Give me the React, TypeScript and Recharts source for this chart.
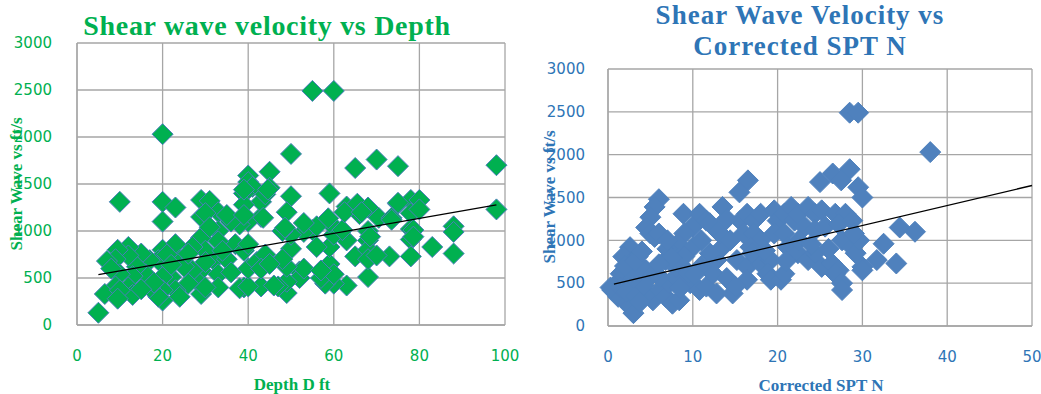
import React from 'react';
import { ScatterChart, Scatter, XAxis, YAxis, CartesianGrid } from 'recharts';

// Vs (ft/s) against depth (ft)
const depthPoints: [number, number][] = [
  [5, 130], [20, 2030], [55, 2490], [60, 2490], [50, 1820], [70, 1760], [75, 1690], [65, 1670],
  [98, 1700], [98, 1230], [45, 1630], [40, 1590], [40, 1520], [41, 1470], [45, 1460], [39, 1400],
  [10, 1310], [20, 1310], [20, 1100], [23, 1250], [29, 1330], [31, 1320], [59, 1400], [50, 1370],
  [49, 1200], [63, 1260], [65.5, 1290], [68, 1250], [70.5, 1140], [75, 1290], [73.5, 1140], [78, 1330],
  [80, 1330], [78, 1190], [78, 1020], [78, 910], [78, 730], [80, 1230], [83, 830], [88, 1050],
  [88, 990], [88, 760], [73, 730], [68, 510], [65, 730], [68, 900], [68, 800], [68, 700],
  [70, 740], [68, 1000], [63, 900], [63, 420], [60, 440], [58, 440], [57, 500], [59, 650],
  [59, 830], [60, 960], [59, 1090], [60, 540], [55, 1010], [53, 990], [56, 830], [52, 570],
  [52, 500], [53, 600], [49, 340], [49, 460], [49, 620], [50, 810], [50, 960], [48, 700],
  [47, 410], [48, 1000], [43, 410], [39, 400], [38, 390], [40, 410], [43, 1150], [43, 1310],
  [44, 1390], [39, 1280], [40, 1100], [38, 1070], [37, 860], [39, 790], [40, 600], [42, 670],
  [44, 750], [43, 600], [45, 650], [40, 860], [33, 1200], [35, 1160], [33, 1000], [33, 890],
  [32, 690], [33, 540], [33, 400], [29, 930], [30, 790], [29, 580], [28, 470], [29, 330],
  [30, 400], [29, 1150], [30, 1190], [31, 1040], [27, 830], [27, 580], [26, 440], [23, 860],
  [24, 690], [22, 510], [23, 370], [24, 300], [20, 800], [19, 690], [21, 750], [20, 510],
  [20, 370], [20, 260], [19, 300], [17, 690], [16, 540], [17, 400], [15, 760], [14, 620],
  [13, 520], [12, 830], [12, 740], [12, 400], [13, 320], [9.5, 800], [9, 700], [10, 540],
  [9, 410], [7, 680], [6.5, 330], [10, 370], [9.5, 280], [8, 600], [35, 700], [36, 560],
  [25, 620], [26, 760], [18, 450], [15, 380], [22, 640], [30, 670], [34, 790], [46, 420],
  [57, 580], [62, 1010], [66, 1180], [56, 1050], [36, 1100], [43.5, 1140], [35, 1170], [39, 1170],
  [62.5, 1200], [66.5, 1200], [58.7, 1135], [53, 1085], [48.6, 1035], [39, 1440], [44.6, 1440],
  [78.6, 1010], [78.6, 940], [68.5, 940], [73.5, 1120], [75, 1300],
];

// Vs (ft/s) against corrected SPT N
const sptPoints: [number, number][] = [
  [28.5, 2490], [29.5, 2490], [38, 2030], [28.5, 1830], [25, 1680], [26.5, 1780], [27.5, 1700],
  [29.5, 1620], [30, 1500], [16.5, 1700], [15.5, 1560], [13.5, 1390], [6, 1480], [5.5, 1390],
  [5, 1270], [4.5, 1150], [5, 1080], [5.5, 1040], [6, 1080], [2.6, 920], [1.8, 810], [3.5, 810],
  [4.5, 650], [1.5, 610], [2.6, 500], [0.7, 460], [0.5, 420], [1.2, 340], [2, 300], [2.6, 225],
  [3, 150], [5.3, 300], [4.5, 380], [6.1, 420], [6.8, 340], [7.6, 260], [8.4, 300], [7.2, 500],
  [8, 570], [6.1, 570], [5.3, 610], [8.9, 1310], [10, 1160], [10.8, 1310], [11.6, 1230], [9, 1080],
  [8.2, 960], [10, 920], [6.8, 770], [8, 690], [9, 810], [9.7, 500], [10.8, 420], [11.6, 460],
  [12.8, 380], [14.7, 380], [12.4, 610], [12.8, 770], [13.5, 920], [13.2, 1080], [14.4, 1000],
  [15.6, 1230], [16.4, 1310], [17.2, 1230], [18, 1310], [16, 1080], [17.2, 1080], [18, 1000],
  [16.8, 920], [15.2, 770], [16.4, 690], [18, 730], [19.2, 770], [18.8, 610], [16.4, 540],
  [19.2, 540], [20.4, 540], [20.8, 610], [19.6, 1350], [20, 1230], [20.8, 1310], [21.6, 1390],
  [19.6, 1080], [20.8, 1080], [22, 1230], [22.4, 1310], [23.6, 1390], [24.4, 1310], [25.2, 1350],
  [23.2, 1160], [24.4, 1120], [25.6, 1160], [21.2, 920], [22.4, 850], [23.6, 770], [24.4, 850],
  [25.2, 690], [26.4, 730], [27.2, 650], [26.8, 1310], [28, 1310], [27.2, 1190], [28.8, 1230],
  [27.6, 1000], [28.8, 920], [29.2, 850], [29.6, 1000], [26.8, 610], [27.6, 500], [27.6, 420],
  [30, 690], [30, 650], [31.7, 770], [32.5, 960], [34, 730], [34.4, 1150], [36.2, 1100], [29, 1080],
  [1, 380], [0.3, 450], [1.5, 450], [2.2, 400], [3.3, 350], [3.8, 280], [4.2, 480], [3, 560],
  [2, 700], [3.2, 760], [4, 870], [7, 900], [7.5, 800], [9.5, 620], [11, 700], [12, 850],
  [14, 560], [15, 460], [11, 1000], [12, 1200], [14, 1250], [13, 1100], [17, 850], [18.5, 880],
  [21, 760], [22.5, 1000], [24, 950], [26, 900], [7, 1000], [6, 720], [8.5, 440], [10.2, 600],
];

// linear trend end points
const depthTrend: [number, number][] = [[5, 535], [98, 1278]];
const sptTrend: [number, number][] = [[0.7, 490], [50, 1640]];

const vsTicks = [0, 500, 1000, 1500, 2000, 2500, 3000];
const depthTicks = [0, 20, 40, 60, 80, 100];
const sptTicks = [0, 10, 20, 30, 40, 50];

const GREEN = '#00B050';
const BLUE_TEXT = '#2E75B6';
const BLUE_MARK = '#4F81BD';
const GRID = '#a6a6a6';
const SERIF = '"Liberation Serif", "Times New Roman", serif';
const TICK_FONT = '"DejaVu Sans", sans-serif';

const toXY = (pts: [number, number][]) => pts.map(([x, y]) => ({ x, y }));

const makeDiamond = (fill: string, stroke: string) => (props: any) => {
  const { cx, cy } = props;
  const r = 10.5;
  return (
    <polygon
      points={`${cx},${cy - r} ${cx + r},${cy} ${cx},${cy + r} ${cx - r},${cy}`}
      fill={fill}
      stroke={stroke}
      strokeWidth={1}
    />
  );
};

const noDot = () => <g />;

export default function App() {
  return (
    <div style={{ position: 'absolute', left: 0, top: 0, width: 1041, height: 394, background: '#fff' }}>
      <div style={{ position: 'absolute', left: 0, top: 0 }}>
        <ScatterChart width={520} height={394} margin={{ top: 43, right: 15, bottom: 0, left: 0 }}>
          <CartesianGrid stroke={GRID} strokeWidth={1.3} />
          <XAxis
            type="number"
            dataKey="x"
            domain={[0, 100]}
            ticks={depthTicks}
            height={69}
            tickSize={0}
            tickMargin={25}
            axisLine={{ stroke: GRID, strokeWidth: 1.3 }}
            tick={{ fill: GREEN, fontSize: 15, fontFamily: TICK_FONT }}
          />
          <YAxis
            type="number"
            dataKey="y"
            domain={[0, 3000]}
            ticks={vsTicks}
            width={77}
            tickSize={0}
            tickMargin={25}
            axisLine={{ stroke: GRID, strokeWidth: 1.3 }}
            tick={{ fill: GREEN, fontSize: 15, fontFamily: TICK_FONT }}
          />
          <Scatter data={toXY(depthPoints)} shape={makeDiamond(GREEN, '#4a7ebb')} isAnimationActive={false} />
          <Scatter
            data={toXY(depthTrend)}
            line={{ stroke: '#000', strokeWidth: 1.3 }}
            shape={noDot}
            isAnimationActive={false}
          />
        </ScatterChart>
      </div>
      <div style={{ position: 'absolute', left: 520, top: 0 }}>
        <ScatterChart width={521} height={394} margin={{ top: 69, right: 9, bottom: 0, left: 0 }}>
          <CartesianGrid stroke={GRID} strokeWidth={1.3} />
          <XAxis
            type="number"
            dataKey="x"
            domain={[0, 50]}
            ticks={sptTicks}
            height={68}
            tickSize={0}
            tickMargin={25}
            axisLine={{ stroke: GRID, strokeWidth: 1.3 }}
            tick={{ fill: BLUE_TEXT, fontSize: 15, fontFamily: TICK_FONT }}
          />
          <YAxis
            type="number"
            dataKey="y"
            domain={[0, 3000]}
            ticks={vsTicks}
            width={88}
            tickSize={0}
            tickMargin={23}
            axisLine={{ stroke: GRID, strokeWidth: 1.3 }}
            tick={{ fill: BLUE_TEXT, fontSize: 15, fontFamily: TICK_FONT }}
          />
          <Scatter data={toXY(sptPoints)} shape={makeDiamond(BLUE_MARK, BLUE_MARK)} isAnimationActive={false} />
          <Scatter
            data={toXY(sptTrend)}
            line={{ stroke: '#000', strokeWidth: 1.3 }}
            shape={noDot}
            isAnimationActive={false}
          />
        </ScatterChart>
      </div>
      {/* titles and axis captions */}
      <svg
        width={1041}
        height={394}
        style={{ position: 'absolute', left: 0, top: 0, pointerEvents: 'none' }}
        fontFamily={SERIF}
        fontWeight="bold"
      >
        <text x={267} y={35} textAnchor="middle" fontSize={28} letterSpacing={0.7} fill={GREEN}>
          Shear wave velocity vs Depth
        </text>
        <text x={292} y={390} textAnchor="middle" fontSize={17} fill={GREEN}>
          Depth D ft
        </text>
        <text transform="translate(22,184) rotate(-90)" textAnchor="middle" fontSize={17} fill={GREEN}>
          Shear Wave vs ft/s
        </text>
        <text x={800} y={24} textAnchor="middle" fontSize={27} letterSpacing={1} fill={BLUE_TEXT}>
          Shear Wave Velocity vs
        </text>
        <text x={800} y={55} textAnchor="middle" fontSize={27} letterSpacing={1} fill={BLUE_TEXT}>
          Corrected SPT N
        </text>
        <text x={821} y={391} textAnchor="middle" fontSize={17} fill={BLUE_TEXT}>
          Corrected SPT N
        </text>
        <text transform="translate(555,197) rotate(-90)" textAnchor="middle" fontSize={17} fill={BLUE_TEXT}>
          Shear Wave vs ft/s
        </text>
      </svg>
    </div>
  );
}
